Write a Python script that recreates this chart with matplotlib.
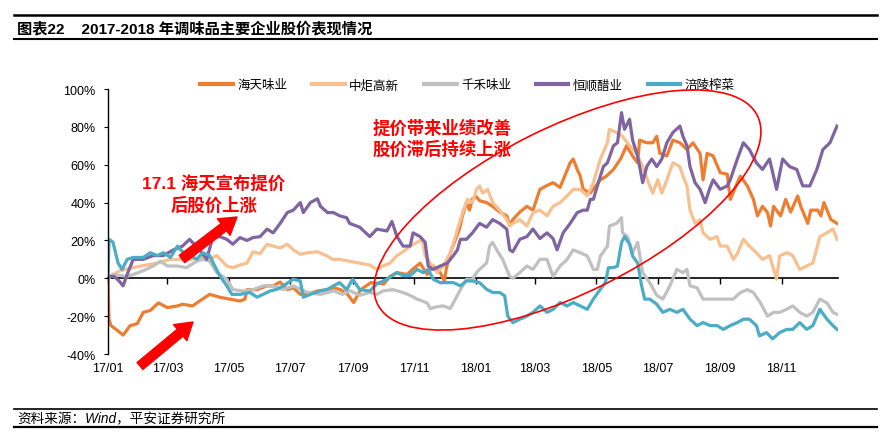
import matplotlib
matplotlib.use("Agg")
import matplotlib.pyplot as plt
import numpy as np
import pandas as pd
from matplotlib.lines import Line2D
from matplotlib.patches import Ellipse

plt.rcParams['font.family'] = ['Liberation Sans', 'Noto Sans CJK SC']
plt.rcParams['axes.unicode_minus'] = False

# days since 2017-01-01, values in %
ht_days = [0,1,3,8,15,22,29,35,42,50,59,69,74,84,91,101,111,121,131,136,138,148,158,164,171,178,184,191,198,208,
           218,224,231,238,244,251,261,274,280,287,297,303,310,317,323,330,334,336,339,344,349,352,356,359,362,366,369,376,382,389,
           396,399,402,409,416,422,429,436,442,449,452,459,462,466,469,472,479,489,495,502,509,515,521,526,528,535,541,545,548,555,
           561,568,575,581,588,591,595,601,608,615,618,625,628,635,641,645,650,655,658,661,668,673,678,685,688,695,698,705,708,711,718,724]
ht_vals = [0,-22,-25,-27,-30,-25,-24,-18,-17,-13,-15.5,-14.6,-13.7,-14.6,-12,-8.5,-10,-11,-12,-11,-6,-6,-4,-4,-2,-6,-5,-8.5,-8.5,-6.7,
           -6,-5,-6,-8.5,-12.8,-6,-2.3,-3,1,3,2,5,8,2,6.5,3,-1.4,5,12,19,26,33,40,36,42,43,41,40,38,35,
           33,28,31,35,38,36,47,49,50.5,48,52,61,63,57.5,54,47,45,52,54,57.5,63,70,64.6,61,73,71.6,71.6,75,66,64.6,
           73,71.6,68,71.6,66,52,66,64.6,55.8,55,41.7,50.5,54,48.8,41.7,33,38,34.7,27.6,38,33,41.7,35,43.5,38,29,36,36,33,40,31,29]

zj_days = [0,5,12,20,28,38,48,55,62,69,82,95,101,108,118,124,131,138,144,151,158,164,171,178,184,191,198,208,217,223,
           230,240,250,260,267,273,280,287,293,300,307,312,315,320,327,333,340,345,348,353,357,362,366,369,372,377,382,389,396,399,
           402,409,416,422,429,436,442,449,456,462,469,476,482,489,496,498,505,511,518,525,531,538,541,546,550,555,561,568,571,575,
           578,583,588,591,598,605,608,615,621,625,631,637,644,650,657,664,667,674,680,687,694,700,707,714,720,724]
zj_vals = [0,2,4,5,6,7,8,9,10,10,10,11,10,12,6.5,5.6,7,8,14,13,18,17,16,18,15,12.7,13.5,14,12,10,
           10,9,8,7,4.7,6.5,8,12,14,17,19,20.6,12,8,3,6.5,13.5,22,27.6,36,41.7,40,47,48.8,45,47,40,36,31,27.6,
           29,31,27.6,34.7,36,33,38,40,43.5,47,47,43.5,50.5,63,71.6,78.7,77,75,70,66,59,48.8,45,52,45,52,61,59,54,48.8,
           36,29,31,24,20.6,22,17,17,10,13,20.6,17,13.5,10,12,-0.5,11.8,13.5,12,4.7,6.5,8,22,24,26,20.6]

qh_days = [0,5,19,25,35,45,52,59,69,78,88,94,101,108,118,124,134,144,154,164,174,184,198,211,224,233,240,250,260,267,
           273,283,293,300,307,317,320,327,333,340,345,350,356,362,366,369,376,379,382,386,392,396,399,402,409,416,422,429,436,442,
           449,456,462,469,476,482,486,489,496,498,505,510,511,516,521,526,531,538,545,551,558,565,571,575,578,585,591,598,605,611,
           621,628,635,641,648,655,661,667,674,680,687,694,700,707,714,720,724]
qh_vals = [0,2,1,2,4,6.5,9,6.5,6.5,5.6,9,10,9,3,-0.5,-6,-6.7,-6,-4,-4,-6,-4,-7.5,-8.5,-6.7,-8.5,-6.5,-9,-7.5,-8.5,
           -6.7,-6,-7.5,-9,-11,-13,-16,-15,-14.6,-16,-11,-6,-0.5,-0.5,3,4.7,8,17,19,15,10,4.7,1,0,3,6.5,4.7,10,10,1,
           6.5,10,15,13.5,11.8,4.7,4.7,11.8,17,27.6,29,32,24,22,13.5,19,3,-2.3,-9,-11,-4,4.7,3,4.7,-4,-5,-11,-11,-11,-11,
           -11,-7.5,-6,-7.5,-13,-20,-18,-18,-16.4,-14.6,-18,-20,-18,-11,-13,-18,-19]

hs_days = [0,6,11,15,19,25,35,45,55,65,74,81,91,98,104,111,118,124,131,138,144,151,158,164,171,178,184,191,194,201,
           208,211,218,224,230,237,240,250,260,267,277,282,287,293,300,303,310,315,318,323,330,337,343,347,350,356,362,369,376,382,
           389,396,399,402,409,416,422,429,436,442,446,452,459,466,472,476,479,482,489,492,496,502,506,510,513,518,521,526,531,535,
           540,545,550,555,561,568,571,575,578,583,588,593,598,601,608,615,618,625,631,637,644,650,657,664,670,677,684,690,697,704,
           710,717,724]
hs_vals = [1,1,-1.4,-4,2,10,10,12,12,15,17,20.6,15,10,21.5,22,20.6,18,21.5,20,21.5,22,26,24,29,34.7,36,40,34.7,40,
           42,38,34.7,34.7,33,32,29,27,22,26,25,30,22,17,17,24,22,19,6.5,4.7,6.5,8,12,15,20.6,20.6,24,29,27,31,
           29,26,15,14,20.6,22,26,21,24,21,15,24,29,34.7,36,36,41.7,41.7,54,59,61,70,71.6,87.5,78.7,84,73,64.6,50.5,59,
           63,59,63,71.6,77,80.4,75,70,59,50.5,47,40,48,52,47,48.8,52,63,71.6,68,61,57.5,63,47,63,59,57.5,48.8,48.8,57.5,
           68,71.6,80.4]

fl_days = [0,1,5,10,14,19,25,35,42,49,55,62,69,74,81,88,94,101,106,111,118,123,131,141,148,154,161,168,174,184,
           191,194,201,211,218,224,230,237,243,250,260,267,277,287,293,300,307,313,318,323,330,337,343,350,356,362,369,376,382,389,
           394,397,402,409,416,422,429,436,442,449,456,462,469,476,482,489,494,497,502,506,510,513,518,521,526,530,533,538,545,551,
           558,565,571,578,585,591,598,605,611,618,625,631,637,644,647,654,660,667,674,680,687,694,700,707,714,720,724]
fl_vals = [0,20.6,19,8,4.7,10,11,11,13.5,12,13.5,11,17,14,12.5,10,13.5,12,6.5,1.4,-4,-8.5,-8.5,-7.5,-10,-8.5,-6.7,-5.8,-4,-0.5,
           -1.4,-10,-8.5,-6.7,-5.8,-4,-2.3,-6,-0.5,-6,-6.7,-3,-0.5,3,1.4,1.4,4.7,3,4.7,-0.5,-2.3,-2.3,-2.3,-4,-1.4,-1.4,-2.3,-5.8,-7.5,-7.5,
           -9.3,-20,-23.4,-21.6,-20,-18,-14.6,-18,-16.4,-12.8,-14.6,-12.8,-14.6,-16.4,-11,-5.8,-2.3,5.6,5.6,6.5,18.8,22,18,11.8,8,-4,-11,-11,-13.7,-18,
           -16.4,-18,-16.4,-21.6,-25,-23.4,-25,-25,-27,-25,-23.4,-21.6,-21.6,-25,-30.4,-28.7,-32,-28.7,-27,-27,-23.4,-27,-25,-16.4,-21.6,-25,-27]

series = [
    ('海天味业', ht_days, ht_vals, '#ED7D31'),
    ('中炬高新', zj_days, zj_vals, '#F9C08F'),
    ('千禾味业', qh_days, qh_vals, '#C0C0C0'),
    ('恒顺醋业', hs_days, hs_vals, '#8064A2'),
    ('涪陵榨菜', fl_days, fl_vals, '#4BACC6'),
]

start = pd.Timestamp('2017-01-01')
tick_dates = pd.date_range('2017-01-01', '2018-11-01', freq='2MS')
tick_days = [(d - start).days for d in tick_dates]
tick_labels = [d.strftime('%y/%m') for d in tick_dates]

fig = plt.figure(figsize=(8.85, 4.35), dpi=100)
ax = fig.add_axes([108/885, 80/435, 730/885, 265/435])

for name, d, v, c in series:
    ax.plot(d, v, color=c, lw=2.3, label=name, solid_joinstyle='round')

ax.set_xlim(0, 725)
ax.set_ylim(-40, 100)
ax.set_yticks(np.arange(-40, 101, 20))
ax.set_yticklabels([f'{t}%' for t in range(-40, 101, 20)], fontsize=9)
ax.set_xticks(tick_days)
ax.set_xticklabels(tick_labels, fontsize=9)
ax.tick_params(axis='x', length=0, pad=6)
ax.tick_params(axis='y', length=3, direction='out', pad=6)
for s in ['top', 'right', 'bottom']:
    ax.spines[s].set_visible(False)
ax.spines['left'].set_linewidth(1)

# zero line with tick marks
zero = ax.secondary_xaxis(40/140)
zero.set_xticks(tick_days)
zero.set_xticklabels([])
zero.tick_params(length=4, direction='out', width=1)
zero.spines['bottom'].set_linewidth(1.2)

ax.legend(loc='center', bbox_to_anchor=(0.4925, 1.015), ncol=5, frameon=False,
          fontsize=9, handlelength=2.6, handletextpad=0.35, columnspacing=2.0)
for h in ax.get_legend().get_lines():
    h.set_linewidth(3)

# title and source bars
fig.add_artist(Line2D([0.016, 0.991], [0.963, 0.963], color='black', lw=1.8))
fig.add_artist(Line2D([0.016, 0.991], [0.908, 0.908], color='black', lw=1.5))
fig.text(0.019, 0.934, '图表22    2017-2018 年调味品主要企业股价表现情况', fontsize=11,
         fontweight='bold', va='center')
fig.add_artist(Line2D([0.016, 0.991], [0.0575, 0.0575], color='black', lw=1.2))
fig.add_artist(Line2D([0.016, 0.991], [0.016, 0.016], color='black', lw=1.6))
fig.text(0.019, 0.037, '资料来源：Wind，平安证券研究所', fontsize=9.8, style='italic', va='center')

# annotations
fig.text(214/885, 1 - 194/435, '17.1 海天宣布提价\n后股价上涨', color='red', fontsize=12.5,
         fontweight='bold', ha='center', va='center', multialignment='center', linespacing=1.3)
fig.text(373/885, 1 - 138.5/435, '提价带来业绩改善\n股价滞后持续上涨', color='red', fontsize=12.5,
         fontweight='bold', ha='left', va='center', linespacing=1.3)

arrow = dict(arrowstyle='simple,head_length=1.2,head_width=1.5,tail_width=0.65',
             color='red', mutation_scale=10, shrinkA=0, shrinkB=0)
ax.annotate('', xy=(237, 217), xytext=(182, 175), xycoords='figure pixels',
            textcoords='figure pixels', arrowprops=arrow, annotation_clip=False)
ax.annotate('', xy=(193, 112), xytext=(140, 68), xycoords='figure pixels',
            textcoords='figure pixels', arrowprops=arrow, annotation_clip=False)

ell = Ellipse((567.5/100, 224/100), 4.24, 1.66, angle=26.4, transform=fig.dpi_scale_trans,
              fill=False, edgecolor='red', lw=1.2)
fig.add_artist(ell)

fig.savefig('out.png', dpi=100)
